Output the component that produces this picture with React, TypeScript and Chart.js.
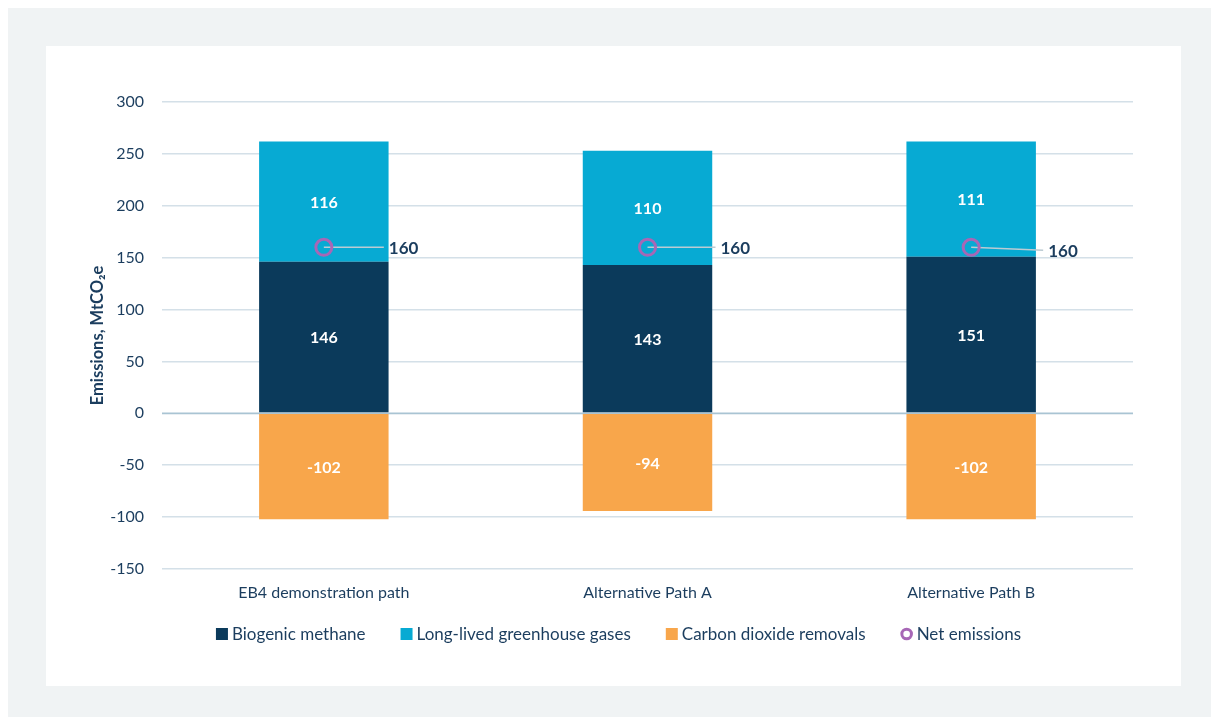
import React, { useEffect, useRef } from 'react';
import { Chart, registerables } from 'chart.js';

Chart.register(...registerables);

const categories = ['EB4 demonstration path', 'Alternative Path A', 'Alternative Path B'];
const biogenicMethane = [146, 143, 151];
const longLivedGases = [116, 110, 111];
const co2Removals = [-102, -94, -102];
const netEmissions = [160, 160, 160];
const seriesNames = ['Biogenic methane', 'Long-lived greenhouse gases', 'Carbon dioxide removals', 'Net emissions'];
const yMin = -150;
const yMax = 300;
const yStep = 50;

const FONT = 'Lato, "Open Sans", sans-serif';
const TEXT = '#1b3d5e';
const NAVY = '#0b3a5b';
const BLUE = '#07aad3';
const ORANGE = '#f8a64b';
const PURPLE = '#a767b6';
const LEADER = '#bccbd3';
const GRID = '#d4e0e8';
const ZERO = '#a9c4d3';

// label offsets (style) for the net emission callouts
const netLabelShift = [
  { dx: 65, dy: 0 },
  { dx: 73, dy: 0 },
  { dx: 77, dy: 3 },
];

const overlayPlugin = {
  id: 'overlay',
  beforeDatasetDraw(chart: any, args: any) {
    if (args.index !== 3) return;
    const ctx = chart.ctx;
    const meta = chart.getDatasetMeta(3);
    ctx.save();
    ctx.strokeStyle = LEADER;
    ctx.lineWidth = 1.5;
    meta.data.forEach((pt: any, i: number) => {
      const s = netLabelShift[i] || { dx: 65, dy: 0 };
      ctx.beginPath();
      ctx.moveTo(pt.x, pt.y);
      ctx.lineTo(pt.x + s.dx - 5, pt.y + s.dy);
      ctx.stroke();
    });
    ctx.restore();
  },
  afterDatasetsDraw(chart: any) {
    const ctx = chart.ctx;
    const { left, right } = chart.chartArea;
    const y0 = chart.scales.y.getPixelForValue(0);
    ctx.save();
    ctx.strokeStyle = ZERO;
    ctx.lineWidth = 1.5;
    ctx.beginPath();
    ctx.moveTo(left, y0);
    ctx.lineTo(right, y0);
    ctx.stroke();

    // bar value labels
    ctx.font = `bold 16px ${FONT}`;
    ctx.fillStyle = '#ffffff';
    ctx.textAlign = 'center';
    ctx.textBaseline = 'middle';
    [0, 1, 2].forEach((di) => {
      const meta = chart.getDatasetMeta(di);
      const data = chart.data.datasets[di].data;
      meta.data.forEach((el: any, i: number) => {
        const p = el.getProps(['x', 'y', 'base'], true);
        ctx.fillText(String(data[i]), p.x, (p.y + p.base) / 2 + 1);
      });
    });

    // net emission labels
    const nm = chart.getDatasetMeta(3);
    const nd = chart.data.datasets[3].data;
    ctx.font = `bold 17px ${FONT}`;
    ctx.fillStyle = TEXT;
    ctx.textAlign = 'left';
    nm.data.forEach((pt: any, i: number) => {
      const s = netLabelShift[i] || { dx: 65, dy: 0 };
      ctx.fillText(String(nd[i]), pt.x + s.dx, pt.y + s.dy + 1);
    });

    // legend
    const colors = [NAVY, BLUE, ORANGE, PURPLE];
    ctx.font = `17px ${FONT}`;
    const box = 12;
    const gap = 4;
    const spacing = 35;
    const widths = seriesNames.map((n) => ctx.measureText(n).width);
    const total = widths.reduce((a, w) => a + box + gap + w, 0) + spacing * (seriesNames.length - 1);
    let x = chart.width / 2 - total / 2 + 5;
    const ly = chart.chartArea.bottom + 65;
    ctx.textBaseline = 'middle';
    seriesNames.forEach((n, i) => {
      if (i === 3) {
        ctx.beginPath();
        ctx.arc(x + box / 2, ly, 4.8, 0, Math.PI * 2);
        ctx.fillStyle = '#ffffff';
        ctx.fill();
        ctx.strokeStyle = colors[i];
        ctx.lineWidth = 3;
        ctx.stroke();
      } else {
        ctx.fillStyle = colors[i];
        ctx.fillRect(x, ly - box / 2, box, box);
      }
      ctx.fillStyle = TEXT;
      ctx.fillText(n, x + box + gap, ly + 1);
      x += box + gap + widths[i] + spacing;
    });
    ctx.restore();
  },
};

function App() {
  const ref = useRef<HTMLCanvasElement | null>(null);

  useEffect(() => {
    if (!ref.current) return;
    const chart = new Chart(ref.current, {
      type: 'bar',
      data: {
        labels: categories,
        datasets: [
          { type: 'bar', label: seriesNames[0], data: biogenicMethane, backgroundColor: NAVY, stack: 's', order: 1 },
          { type: 'bar', label: seriesNames[1], data: longLivedGases, backgroundColor: BLUE, stack: 's', order: 1 },
          { type: 'bar', label: seriesNames[2], data: co2Removals, backgroundColor: ORANGE, stack: 's', order: 1 },
          {
            type: 'line',
            label: seriesNames[3],
            data: netEmissions,
            showLine: false,
            pointRadius: 8,
            pointBorderWidth: 3,
            pointBorderColor: PURPLE,
            pointBackgroundColor: 'rgba(0,0,0,0)',
            pointHoverRadius: 8,
            order: 0,
          } as any,
        ],
      },
      options: {
        animation: false,
        responsive: false,
        maintainAspectRatio: false,
        events: [],
        layout: { padding: { top: 56, right: 48, bottom: 0, left: 0 } },
        datasets: { bar: { categoryPercentage: 0.8, barPercentage: 0.5 } },
        plugins: { legend: { display: false }, tooltip: { enabled: false } },
        scales: {
          x: {
            stacked: true,
            grid: { display: false, drawTicks: false },
            border: { display: false },
            ticks: { color: TEXT, font: { family: FONT, size: 16 }, padding: 14 },
            afterFit(scale: any) {
              scale.height = 117;
            },
          } as any,
          y: {
            stacked: true,
            min: yMin,
            max: yMax,
            grid: { color: GRID, lineWidth: 1.5, drawTicks: false },
            border: { display: false },
            ticks: { stepSize: yStep, color: TEXT, font: { family: FONT, size: 16 }, padding: 18 },
            title: {
              display: true,
              text: 'Emissions, MtCO₂e',
              color: TEXT,
              font: { family: FONT, size: 16.5, weight: 'bold' },
              padding: { top: 42, bottom: 0 },
            },
            afterFit(scale: any) {
              scale.width = 116;
            },
          } as any,
        },
      },
      plugins: [overlayPlugin],
    });
    return () => chart.destroy();
  }, []);

  return (
    <div
      style={{
        position: 'fixed',
        left: 8,
        top: 8,
        width: 1203,
        height: 709,
        background: '#f0f3f4',
      }}
    >
      <div style={{ position: 'absolute', left: 38, top: 38, width: 1135, height: 640, background: '#ffffff' }}>
        <canvas ref={ref} width={1135} height={640} style={{ display: 'block', width: 1135, height: 640 }} />
      </div>
    </div>
  );
}

export default App;
